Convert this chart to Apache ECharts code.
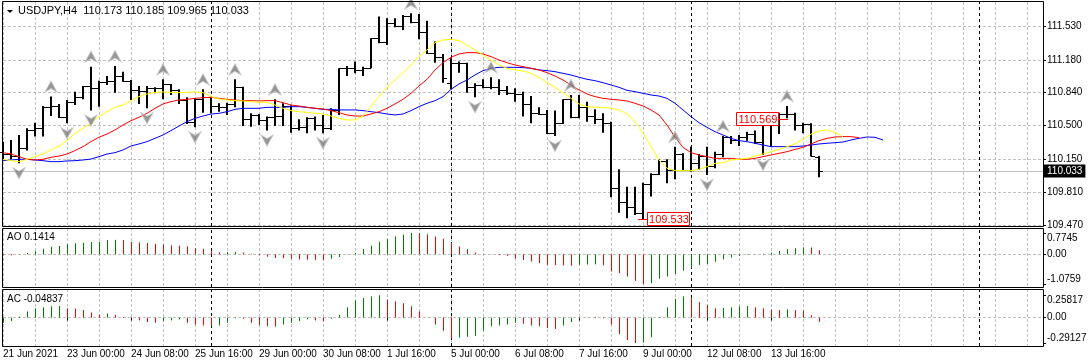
<!DOCTYPE html>
<html><head><meta charset="utf-8">
<script src="https://cdn.jsdelivr.net/npm/echarts@6/dist/echarts.min.js"></script>
<style>html,body{margin:0;padding:0;background:#fff}#c{width:1089px;height:364px}</style>
</head><body><div id="c"></div>
<script>
// ---------- DATA ----------
const symbolName = 'USDJPY,H4';
const xTickIdx = [0,8,16,24,32,40,48,56,64,72,80,88,96];
const xTickLabels = ['21 Jun 2021','23 Jun 00:00','24 Jun 08:00','25 Jun 16:00','29 Jun 00:00','30 Jun 08:00','1 Jul 16:00','5 Jul 00:00','6 Jul 08:00','7 Jul 16:00','9 Jul 00:00','12 Jul 08:00','13 Jul 16:00'];
const weekSeparators = [26,56,86,122];
const priceTickVals = [111.53,111.18,110.84,110.50,110.15,109.81,109.47];
const priceTickLabels = ['111.530','111.180','110.840','110.500','110.150','109.810','109.470'];
const aoTickVals = [0.7745,0,-1.0759];
const aoTickLabels = ['0.7745','0.00','-1.0759'];
const acTickVals = [0.25817,0,-0.29127];
const acTickLabels = ['0.25817','0.00','-0.29127'];

const opens = [110.229,110.205,110.184,110.271,110.454,110.478,110.688,110.702,110.592,110.747,
110.792,110.909,110.885,110.954,110.961,111.012,110.964,110.868,110.861,110.885,
110.885,110.926,110.868,110.764,110.540,110.771,110.799,110.702,110.695,110.723,
110.895,110.564,110.609,110.557,110.585,110.598,110.702,110.471,110.488,110.574,
110.505,110.471,110.661,111.092,111.092,111.075,111.092,111.402,111.368,111.564,
111.530,111.633,111.575,111.471,111.254,111.213,110.937,111.150,111.144,110.902,
110.919,110.895,110.902,110.868,110.840,110.826,110.723,110.626,110.619,110.426,
110.523,110.771,110.585,110.688,110.598,110.564,110.529,109.850,109.708,109.660,
109.591,109.895,109.998,110.136,110.040,110.205,110.040,110.115,110.184,110.081,
110.205,110.385,110.350,110.385,110.412,110.333,110.540,110.585,110.619,110.619,
110.505,110.516,110.173];
const highs = [110.333,110.350,110.402,110.471,110.529,110.702,110.799,110.723,110.764,110.850,
110.909,111.109,110.964,111.012,111.116,111.057,110.971,110.909,110.909,110.895,
110.978,110.930,110.874,110.792,110.781,110.874,110.805,110.730,110.736,110.978,
110.902,110.626,110.619,110.592,110.771,110.730,110.709,110.564,110.585,110.592,
110.609,110.678,111.092,111.116,111.161,111.109,111.402,111.627,111.609,111.609,
111.644,111.661,111.654,111.585,111.368,111.240,111.195,111.161,111.150,110.937,
110.978,110.999,110.978,110.909,110.885,110.850,110.805,110.688,110.661,110.654,
110.771,110.816,110.816,110.747,110.667,110.626,110.540,110.046,109.867,109.867,
109.908,110.005,110.150,110.150,110.281,110.212,110.281,110.205,110.281,110.229,
110.391,110.391,110.402,110.436,110.447,110.574,110.609,110.633,110.702,110.633,
110.529,110.523,110.185];
const lows = [110.143,110.150,110.109,110.240,110.385,110.385,110.598,110.578,110.523,110.712,
110.771,110.654,110.695,110.919,110.840,110.954,110.764,110.723,110.678,110.833,
110.771,110.816,110.723,110.516,110.481,110.633,110.626,110.643,110.609,110.688,
110.495,110.488,110.505,110.447,110.495,110.495,110.426,110.447,110.419,110.447,
110.419,110.454,110.609,111.012,111.040,111.012,111.092,111.351,111.333,111.516,
111.489,111.558,111.392,111.240,111.150,110.943,110.874,111.047,110.840,110.792,
110.885,110.874,110.816,110.816,110.747,110.592,110.523,110.609,110.412,110.391,
110.516,110.574,110.574,110.540,110.516,110.426,109.757,109.598,109.539,109.574,
109.533,109.764,109.988,109.902,109.943,110.033,110.022,110.040,109.988,110.057,
110.171,110.309,110.288,110.343,110.309,110.195,110.281,110.412,110.574,110.447,
110.419,110.178,109.965];
const closes = [110.205,110.184,110.271,110.454,110.478,110.688,110.702,110.592,110.747,110.792,
110.909,110.885,110.954,110.961,111.012,110.964,110.868,110.861,110.885,110.885,
110.926,110.868,110.764,110.540,110.771,110.799,110.702,110.695,110.723,110.895,
110.564,110.609,110.557,110.585,110.598,110.702,110.471,110.488,110.574,110.505,
110.471,110.661,111.092,111.092,111.075,111.092,111.402,111.368,111.564,111.530,
111.633,111.575,111.471,111.254,111.213,110.988,111.150,111.144,110.902,110.919,
110.895,110.902,110.868,110.840,110.826,110.723,110.626,110.619,110.426,110.523,
110.771,110.585,110.688,110.598,110.564,110.529,109.850,109.708,109.660,109.591,
109.895,109.998,110.136,110.040,110.205,110.040,110.115,110.184,110.081,110.205,
110.385,110.350,110.385,110.412,110.333,110.540,110.585,110.619,110.619,110.505,
110.516,110.184,110.033];

// Alligator lines (already shifted forward)
const lips = [110.150,110.136,110.126,110.150,110.178,110.205,110.247,110.288,110.343,110.419,
110.471,110.523,110.592,110.643,110.688,110.712,110.757,110.799,110.826,110.843,
110.847,110.843,110.840,110.843,110.847,110.840,110.799,110.774,110.764,110.757,
110.754,110.747,110.740,110.740,110.712,110.678,110.654,110.643,110.636,110.626,
110.619,110.598,110.574,110.557,110.557,110.598,110.695,110.799,110.895,110.971,
111.047,111.126,111.213,111.282,111.357,111.385,111.392,111.378,111.333,111.282,
111.230,111.178,111.126,111.092,111.075,111.064,111.040,110.999,110.943,110.895,
110.840,110.781,110.723,110.695,110.688,110.688,110.678,110.661,110.619,110.540,
110.419,110.281,110.143,110.057,110.033,110.033,110.033,110.046,110.074,110.109,
110.115,110.143,110.150,110.160,110.184,110.205,110.229,110.253,110.281,110.309,
110.357,110.412,110.443,110.454,110.426,110.385];
const teeth = [110.219,110.205,110.178,110.150,110.143,110.150,110.171,110.184,110.205,110.240,
110.281,110.333,110.378,110.412,110.454,110.505,110.550,110.585,110.626,110.678,
110.723,110.747,110.764,110.771,110.781,110.788,110.792,110.781,110.771,110.764,
110.757,110.757,110.754,110.757,110.757,110.736,110.712,110.702,110.688,110.678,
110.671,110.654,110.633,110.609,110.598,110.598,110.619,110.643,110.678,110.723,
110.771,110.833,110.909,110.978,111.075,111.150,111.206,111.240,111.254,111.254,
111.240,111.213,111.178,111.150,111.126,111.109,111.092,111.075,111.047,111.012,
110.971,110.919,110.868,110.826,110.799,110.781,110.771,110.764,110.754,110.730,
110.702,110.661,110.609,110.505,110.378,110.274,110.219,110.195,110.178,110.160,
110.160,110.160,110.150,110.150,110.160,110.178,110.195,110.212,110.229,110.253,
110.274,110.309,110.343,110.367,110.381,110.385,110.385,110.374];
const jaw = [110.136,110.143,110.150,110.150,110.143,110.136,110.126,110.126,110.133,110.136,
110.143,110.153,110.178,110.205,110.219,110.247,110.288,110.309,110.333,110.367,
110.402,110.447,110.495,110.540,110.574,110.598,110.619,110.626,110.643,110.667,
110.678,110.678,110.678,110.688,110.688,110.688,110.695,110.695,110.688,110.678,
110.667,110.667,110.661,110.661,110.661,110.654,110.643,110.633,110.619,110.609,
110.619,110.654,110.695,110.730,110.757,110.799,110.874,110.930,110.971,111.023,
111.068,111.092,111.102,111.102,111.102,111.099,111.092,111.075,111.068,111.057,
111.040,111.023,110.999,110.978,110.964,110.943,110.919,110.895,110.864,110.850,
110.833,110.816,110.805,110.781,110.730,110.661,110.592,110.529,110.481,110.436,
110.402,110.367,110.343,110.333,110.316,110.298,110.281,110.281,110.281,110.281,
110.288,110.298,110.309,110.316,110.322,110.329,110.350,110.367,110.381,110.378,110.350];

const fractalUpIdx = [6,11,14,20,25,29,34,51,61,71,84,90,98];
const fractalDownIdx = [2,8,11,18,24,33,40,59,69,88,95];
const markIdx = [80,98];
const markPrice = [109.533,110.569];

const aoValues = [-0.03,-0.04,0.01,0.05,0.11,0.20,0.27,0.30,0.36,0.40,
0.42,0.44,0.45,0.51,0.52,0.51,0.45,0.43,0.41,0.38,
0.35,0.32,0.31,0.29,0.22,0.20,0.11,0.07,0.08,0.09,
0.06,0.02,-0.03,-0.09,-0.13,-0.14,-0.16,-0.19,-0.195,-0.20,
-0.21,-0.16,-0.10,0.01,0.05,0.19,0.31,0.45,0.55,0.65,
0.71,0.7745,0.76,0.72,0.64,0.56,0.42,0.28,0.18,0.06,
0.01,-0.01,-0.03,-0.06,-0.15,-0.21,-0.26,-0.32,-0.38,-0.39,
-0.40,-0.41,-0.38,-0.37,-0.36,-0.40,-0.62,-0.68,-0.80,-0.96,
-1.0759,-1.04,-0.88,-0.80,-0.71,-0.59,-0.49,-0.39,-0.35,-0.27,
-0.19,-0.12,-0.06,-0.02,0.005,0.02,0.06,0.12,0.18,0.22,
0.25,0.245,0.1414];
const aoColors = ('rrgggggggggggggrrrrrrrrrrrrrggrr' + 'rrrrrrrrrgg' + 'ggggggggg' + 'rrrrrrrrr' + 'rrrrrrrrrrr' + 'ggg' + 'rrrrrr' + 'gggggggggggggggggggg' + 'rr').split('');

const acValues = [-0.059,-0.040,0.012,0.071,0.107,0.119,0.130,0.134,0.107,0.103,
0.087,0.059,0.032,0.047,0.032,0.008,-0.008,-0.032,-0.051,-0.059,
-0.040,-0.032,-0.020,-0.059,-0.079,-0.091,-0.099,-0.091,-0.059,-0.008,
-0.012,-0.059,-0.087,-0.099,-0.103,-0.079,-0.059,-0.040,-0.020,-0.032,
-0.040,-0.012,0.032,0.119,0.198,0.225,0.245,0.25817,0.205,0.186,
0.166,0.130,0.071,-0.003,-0.079,-0.150,-0.237,-0.229,-0.221,-0.209,
-0.150,-0.099,-0.091,-0.079,-0.059,-0.071,-0.091,-0.099,-0.119,-0.130,
-0.091,-0.051,-0.012,-0.004,0.008,-0.008,-0.079,-0.190,-0.257,-0.29127,
-0.287,-0.225,0.004,0.119,0.217,0.245,0.237,0.178,0.146,0.107,
0.111,0.119,0.130,0.134,0.119,0.107,0.091,0.087,0.095,0.087,
0.079,0.028,-0.04837];
const acColors = ('gggggggg' + 'rrrrr' + 'g' + 'rrrrrr' + 'ggg' + 'rrrr' + 'ggg' + 'rrrrr' + 'gggg' + 'rr' + 'ggggggg' + 'rrrrrrrrr' + 'gggggggg' + 'rrrrr' + 'ggggg' + 'rrrrr' + 'gggggg' + 'rrrr' + 'gggg' + 'rrrr' + 'g' + 'rrrr').split('');

// ---------- CHART ----------
const FONT = '"Liberation Sans", Arial, sans-serif';
const N = 131;
const cats = Array.from({length: N}, (_, i) => String(i));
const last = closes.length - 1;
const pad = a => a.concat(Array(N - a.length).fill('-'));
const GRIDC = '#c0c0c0';
const DASH = [3, 2];
const CLEAR = 'rgba(255,255,255,0)';

const sepLines = weekSeparators.map(i => ({xAxis: String(i), lineStyle: {color: '#000', type: [3, 3], width: 1}, label: {show: false}}));

function ohlcItem(params, api) {
  const i = api.value(0);
  const h = api.coord([i, api.value(2)]);
  const l = api.coord([i, api.value(3)]);
  const o = api.coord([i, api.value(1)]);
  const c = api.coord([i, api.value(4)]);
  const xc = Math.round(h[0]);
  const oy = Math.round(o[1]) + 0.5, cy = Math.round(c[1]) + 0.5;
  return {type: 'group', children: [
    {type: 'line', shape: {x1: xc, y1: h[1], x2: xc, y2: l[1]}, style: {stroke: '#000', lineWidth: 2}},
    {type: 'line', shape: {x1: xc - 4, y1: oy, x2: xc, y2: oy}, style: {stroke: '#000', lineWidth: 1}},
    {type: 'line', shape: {x1: xc, y1: cy, x2: xc + 4, y2: cy}, style: {stroke: '#000', lineWidth: 1}}
  ]};
}
function histItem(colors) {
  return function (params, api) {
    const i = api.value(0);
    const p0 = api.coord([i, 0]), p1 = api.coord([i, api.value(1)]);
    const x = Math.round(p0[0]) + 0.5;
    return {type: 'line', shape: {x1: x, y1: p0[1], x2: x, y2: p1[1]},
      style: {stroke: colors[params.dataIndex] === 'g' ? '#008000' : '#ff0000', lineWidth: 1}};
  };
}
function markItem(params, api) {
  const p = api.coord([api.value(0), api.value(1)]);
  const y = Math.round(p[1]) + 0.5;
  const txt = api.value(1).toFixed(3);
  let lx1, lx2, bx;
  const bw = 42, bh = 13;
  if (params.dataIndex === 0) { lx1 = p[0] - 5; lx2 = p[0] + 4; bx = lx2; }
  else { lx1 = p[0] - 9; lx2 = p[0] + 1; bx = lx1 - bw; }
  return {type: 'group', children: [
    {type: 'line', shape: {x1: lx1, y1: y, x2: lx2, y2: y}, style: {stroke: '#ff0000', lineWidth: 1}},
    {type: 'rect', shape: {x: Math.round(bx) + 0.5, y: Math.round(p[1] - bh / 2) + 0.5, width: bw, height: bh}, style: {fill: '#fff', stroke: '#ff0000', lineWidth: 1}},
    {type: 'text', style: {x: Math.round(bx) + 1 + bw / 2, y: p[1] + 1, text: txt, fill: '#ff0000', font: '11px ' + FONT, align: 'center', verticalAlign: 'middle'}}
  ]};
}

const upSym = 'path://M6,0 L12,11 L6,7.5 L0,11 Z';
const dnSym = 'path://M0,0 L6,3.5 L12,0 L6,11 Z';

const xAxisBase = g => ({
  type: 'category', gridIndex: g, data: cats, boundaryGap: false,
  axisLine: {show: false},
  axisTick: g === 2 ? {show: true, interval: (i) => xTickIdx.includes(i), length: 3, lineStyle: {color: '#000'}} : {show: false},
  axisLabel: g === 2 ? {show: true, interval: (i) => xTickIdx.includes(i), formatter: (v, i) => { const k = xTickIdx.indexOf(Number(v)); return k >= 0 ? xTickLabels[k] : ''; }, align: 'left', margin: 3, color: '#000', fontSize: 10, fontFamily: FONT} : {show: false},
  splitLine: {show: true, interval: (i) => i % 4 === 0, lineStyle: {color: GRIDC, type: DASH, width: 1}}
});
const yAxisBase = (g, min, max, ticks) => ({
  type: 'value', gridIndex: g, min, max, position: 'right', scale: true,
  axisLine: {show: false}, axisLabel: {show: false}, splitLine: {show: false},
  axisTick: {show: true, customValues: ticks, length: 3, lineStyle: {color: '#000'}}
});
const rightLabel = {show: true, position: 'end', formatter: '{b}', color: '#000', fontSize: 10, fontFamily: FONT, distance: 4};
const subLabels = (vals, labs) => [
  {yAxis: vals[0], name: labs[0], lineStyle: {color: CLEAR, width: 0}, label: {offset: [0, 5]}},
  {yAxis: vals[1], name: labs[1]},
  {yAxis: vals[2], name: labs[2], lineStyle: {color: CLEAR, width: 0}, label: {offset: [0, -5]}}
];

const option = {
  animation: false,
  backgroundColor: '#fff',
  grid: [
    {left: 3, top: 2, width: 1040, height: 224},
    {left: 3, top: 228, width: 1040, height: 59},
    {left: 3, top: 289, width: 1040, height: 57}
  ],
  xAxis: [xAxisBase(0), xAxisBase(1), xAxisBase(2)],
  yAxis: [
    yAxisBase(0, 109.460, 111.778, priceTickVals),
    yAxisBase(1, -1.180, 0.949, aoTickVals),
    yAxisBase(2, -0.326, 0.329, acTickVals)
  ],
  series: [
    {type: 'custom', name: 'bars', xAxisIndex: 0, yAxisIndex: 0, z: 10,
     data: opens.map((o, i) => [i, o, highs[i], lows[i], closes[i]]),
     encode: {x: 0, y: [1, 2, 3, 4]}, renderItem: ohlcItem,
     markLine: {silent: true, z: 1, symbol: ['none', 'none'], label: rightLabel,
       lineStyle: {color: GRIDC, type: DASH, width: 1},
       data: priceTickVals.map((v, k) => ({yAxis: v, name: priceTickLabels[k]}))
         .concat(sepLines)
         .concat([{yAxis: closes[last], name: closes[last].toFixed(3), lineStyle: {type: 'solid', color: GRIDC},
            label: {backgroundColor: '#000', color: '#fff', padding: [2, 3, 1, 3], distance: 1}}])}
    },
    {type: 'line', name: 'jaw', xAxisIndex: 0, yAxisIndex: 0, z: 11, data: pad(jaw), symbol: 'none', lineStyle: {color: '#0000ff', width: 1}},
    {type: 'line', name: 'teeth', xAxisIndex: 0, yAxisIndex: 0, z: 11, data: pad(teeth), symbol: 'none', lineStyle: {color: '#ff0000', width: 1}},
    {type: 'line', name: 'lips', xAxisIndex: 0, yAxisIndex: 0, z: 11, data: pad(lips), symbol: 'none', lineStyle: {color: '#ffff00', width: 1}},
    {type: 'scatter', name: 'fup', xAxisIndex: 0, yAxisIndex: 0, z: 12, symbol: upSym, symbolSize: [12, 11], symbolOffset: [0, -10],
     itemStyle: {color: '#7c7c7c', borderColor: '#c4c4c4', borderWidth: 1},
     data: fractalUpIdx.map(i => [i, highs[i]])},
    {type: 'scatter', name: 'fdn', xAxisIndex: 0, yAxisIndex: 0, z: 12, symbol: dnSym, symbolSize: [12, 11], symbolOffset: [0, 10],
     itemStyle: {color: '#7c7c7c', borderColor: '#c4c4c4', borderWidth: 1},
     data: fractalDownIdx.map(i => [i, lows[i]])},
    {type: 'custom', name: 'marks', xAxisIndex: 0, yAxisIndex: 0, z: 14,
     data: markIdx.map((i, k) => [i, markPrice[k]]), encode: {x: 0, y: 1}, renderItem: markItem},
    {type: 'custom', name: 'AO', xAxisIndex: 1, yAxisIndex: 1, z: 10,
     data: aoValues.map((v, i) => [i, v]), encode: {x: 0, y: 1}, renderItem: histItem(aoColors),
     markLine: {silent: true, z: 1, symbol: ['none', 'none'], label: rightLabel, lineStyle: {color: GRIDC, type: DASH, width: 1},
       data: subLabels(aoTickVals, aoTickLabels).concat(sepLines)}
    },
    {type: 'custom', name: 'AC', xAxisIndex: 2, yAxisIndex: 2, z: 10,
     data: acValues.map((v, i) => [i, v]), encode: {x: 0, y: 1}, renderItem: histItem(acColors),
     markLine: {silent: true, z: 1, symbol: ['none', 'none'], label: rightLabel, lineStyle: {color: GRIDC, type: DASH, width: 1},
       data: subLabels(acTickVals, acTickLabels).concat(sepLines)}
    }
  ],
  graphic: [
    {type: 'rect', z: 100, silent: true, shape: {x: 2.5, y: 1.5, width: 1041, height: 225}, style: {fill: 'none', stroke: '#000', lineWidth: 1}},
    {type: 'rect', z: 100, silent: true, shape: {x: 2.5, y: 228.5, width: 1041, height: 59}, style: {fill: 'none', stroke: '#000', lineWidth: 1}},
    {type: 'rect', z: 100, silent: true, shape: {x: 2.5, y: 289.5, width: 1041, height: 57}, style: {fill: 'none', stroke: '#000', lineWidth: 1}},
    {type: 'polygon', z: 100, silent: true, shape: {points: [[7, 10], [13, 10], [10, 13]]}, style: {fill: '#000'}},
    {type: 'text', z: 100, silent: true, left: 18, top: 5, style: {text: symbolName + '  ' + [opens[last], highs[last], lows[last], closes[last]].map(v => v.toFixed(3)).join(' '), font: '11px ' + FONT, fill: '#000'}},
    {type: 'text', z: 100, silent: true, left: 7, top: 232, style: {text: 'AO ' + aoValues[last].toFixed(4), font: '10px ' + FONT, fill: '#000'}},
    {type: 'text', z: 100, silent: true, left: 7, top: 294, style: {text: 'AC ' + acValues[last].toFixed(5), font: '10px ' + FONT, fill: '#000'}}
  ]
};
const chart = echarts.init(document.getElementById('c'));
chart.setOption(option);
</script></body></html>
